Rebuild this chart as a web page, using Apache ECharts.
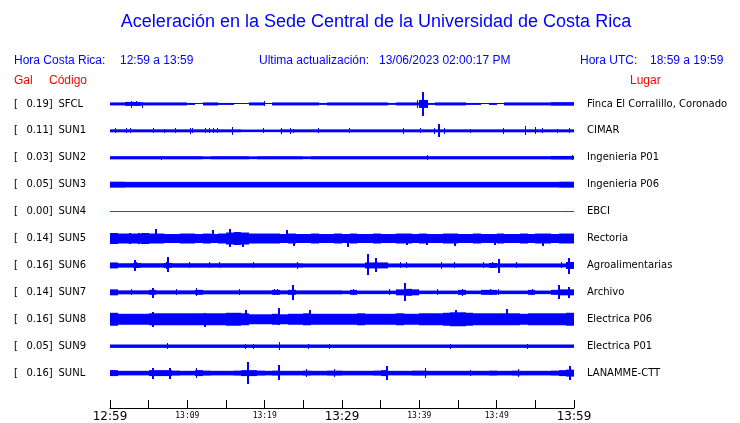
<!DOCTYPE html>
<html><head><meta charset="utf-8">
<script src="https://cdn.jsdelivr.net/npm/echarts@6/dist/echarts.min.js"></script>
<style>html,body{margin:0;padding:0;background:#fff}#c{width:740px;height:423px}</style>
</head><body><div id="c"></div>
<script>
// ---- data ----
const codes = ['SFCL','SUN1','SUN2','SUN3','SUN4','SUN5','SUN6','SUN7','SUN8','SUN9','SUNL'];
const gal = ['0.19','0.11','0.03','0.05','0.00','0.14','0.16','0.14','0.16','0.05','0.16'];
const places = ['Finca El Corralillo, Coronado','CIMAR','Ingenieria P01','Ingenieria P06','EBCI','Rectoria','Agroalimentarias','Archivo','Electrica P06','Electrica P01','LANAMME-CTT'];
const tickMinutes = [0,10,20,30,40,50,60];
const tickLabels = ['12:59','13:09','13:19','13:29','13:39','13:49','13:59'];
const tickMajor = [true,false,false,true,false,false,true];

// envelope half-height per minute (amplitude units, 27 units per trace slot)
const envSFCL = [1.5,1.5,2,2,1.5,1.5,1.5,1.5,1.5,1.5, 1,0.5,1.5,1.5,1,1,0.5,0.5,1.5,1.5, 0.5,1.5,1.5,1.5,1.5,1.5,1.5,1,1.5,1.5, 1.5,1.5,1.5,1.5,1.5,1.5,1,1.5,1.5,1.5, 4,1,1.5,1.5,1.5,1.5,1,1,0.5,1, 0.5,1.5,1.5,1.5,1.5,1.5,1.5,1.8,1.8,1.8];
const envSUN1 = [1.5,1.5,1.5,1.5,1.5,1.5,1.5,1.5,1.5,1.5, 1.5,1.5,1.5,1.5,1.5,1.5,1.5,1.3,1.3,1.3, 1.3,1.3,1.5,1.5,1.5,1.5,1.5,1.5,1.5,1.5, 1.5,1.5,1.5,1.5,1.5,1.5,1.5,1.5,1.5,1.5, 1.5,1.5,1.5,1.5,1.5,1.5,1.5,1.5,1.5,1.5, 1.5,1.5,1.5,1.5,1.5,1.5,1.5,1.5,1.5,1.5];
const envSUN2 = [1.6,1.6,1.6,1.6,1.6,1.6,1.6,1.6,1.6,1.6, 1.6,1.6,1.4,1.6,1.6,1.6,1.6,1.6,1.4,1.6, 1.6,1.6,1.6,1.6,1.6,1.4,1.6,1.6,1.6,1.6, 1.6,1.6,1.6,1.6,1.6,1.6,1.6,1.6,1.6,1.6, 1.6,1.6,1.6,1.6,1.6,1.6,1.6,1.6,1.6,1.6, 1.6,1.6,1.6,1.6,1.6,1.6,1.6,1.8,1.8,1.8];
const envSUN3 = [3,3,2.8,2.8,2.8,2.8,2.8,2.8,2.8,2.8, 2.8,2.8,2.8,2.8,2.8,2.8,2.8,2.8,2.8,2.8, 2.8,2.8,2.8,2.8,2.8,2.8,2.8,2.8,2.8,2.8, 2.8,2.8,2.8,2.8,2.8,2.8,2.8,2.8,2.8,2.8, 2.8,2.8,2.8,2.8,2.8,2.8,2.8,2.8,2.8,2.8, 2.8,2.8,2.8,2.8,2.8,2.8,2.8,2.8,3,3];
const envSUN4 = [0,0,0,0,0,0,0,0,0,0, 0,0,0,0,0,0,0,0,0,0, 0,0,0,0,0,0,0,0,0,0, 0,0,0,0,0,0,0,0,0,0, 0,0,0,0,0,0,0,0,0,0, 0,0,0,0,0,0,0,0,0,0];
const envSUN5 = [5.5,5,5,5,5.5,5,5,4.5,4.5,5, 5,4.5,5,4.5,5,6,6.5,6,5,5, 5,5,4.5,5,4.5,4.5,5,4.5,4.5,5, 4.5,5,4.5,4.5,5,4.5,4.5,5,5,4.5, 5,4.5,4.5,5,5,4.5,4.5,5,4.5,4.5, 5,4.5,4.5,5,4.5,5,5,4.5,5,5];
const envSUN6 = [3,2.2,2.2,2.5,2.2,2.2,2.2,2.5,2.2,2.2, 2.2,2.2,2.2,2.2,2.2,2.2,2.2,2.2,2.2,2.2, 2.2,2.2,2.2,2.2,2.2,2,2,2,2,2, 2,2,2,3,3,3,2,2,2,2, 2,2,2,2,2,2,2,2,2,2.5, 2,2,2,2,2,2,2,2,2,3.5];
const envSUN7 = [3,2,2,2,2,2.5,2,2,2,2, 2,2.5,2,2,2,2,2,2,2,2, 2,2.5,2,2.5,2,2,2,2,2,2, 1.8,2.5,1.8,1.8,1.8,1.8,1.8,3,3.5,3, 1.8,1.8,1.8,1.8,1.8,2.5,1.8,1.8,2.5,2.5, 1.8,1.8,1.8,1.8,2.5,1.8,1.8,2.5,3,3];
const envSUN8 = [6.5,5.5,5.5,5.5,5.5,6,6,6,6,6, 6,6,6,6,6,6.5,6.5,6,5,5, 5,5.5,5,5.5,5.5,6,5.5,5.5,5.5,5.5, 5.5,5.5,6,5.5,5.5,5.5,5.5,6,5.5,5.5, 6,6,6,6.5,7,7,6.5,6,6,6, 6,6,6,5.5,6,6,6,6,6,6.5];
const envSUN9 = [1.7,1.7,1.7,1.7,1.7,1.7,1.7,1.7,1.7,1.7, 1.7,1.7,1.7,1.7,1.7,1.7,1.7,1.7,1.7,1.7, 1.7,1.7,1.7,1.7,1.7,1.7,1.7,1.7,1.7,1.7, 1.7,1.7,1.7,1.7,1.7,1.7,1.7,1.7,1.7,1.7, 1.7,1.7,1.7,1.7,1.7,1.7,1.7,1.7,1.7,1.7, 1.7,1.7,1.7,1.7,1.7,1.7,1.7,1.7,1.7,1.7];
const envSUNL = [3,2.3,2.3,2.3,2.3,3,3,3,2.5,2.3, 2.3,3,2.5,2.3,2.3,2.3,2.5,3,3,2.5, 2.3,2.5,2.3,2.3,2.3,2.5,2.3,2.3,2.5,2.5, 2.3,2.3,2.3,2.3,2.5,3,2.3,2.3,2.3,2.5, 2.5,2.3,2.3,2.3,2.3,2.3,2.3,2.3,2.3,2.5, 2.3,2.3,2.5,2.3,2.3,2.3,2.3,2.5,3,3.5];

// spikes: [minute, up, down]
const spkSFCL = [[2.8,3,3.7],[3.4,3,2],[4.2,1.5,4],[20,2.5,2.5],[39.8,4,4],[40.5,11.7,11.7],[41,4,4]];
const spkSUN1 = [[0.65,2.5,2.5],[2.07,2.7,2.3],[2.6,2.5,2.5],[5.6,2.5,2.5],[7.1,2,2],[8.5,2.5,2.5],[10.4,3,3],[10.7,2.5,2.5],[12.3,2.5,2.5],[12.9,2.5,2.5],[13.4,2.5,2.5],[13.9,2.5,2.5],[15.8,3.7,3.7],[19.8,2.5,2.5],[22.2,3,3],[23.3,3,3],[23.7,2,2],[27,2.5,2.5],[31,2.5,2.5],[38,3,3],[40.1,2.5,2.5],[41.9,3,3],[42.6,7.3,6.3],[43.3,3,3],[46.6,2,2],[50.9,3,3],[53.7,5,4],[55,3.5,3.5],[55.9,2.5,2.5],[57.9,2,2],[59.4,2.5,2.5]];
const spkSUN2 = [[6.7,1.5,2.5],[41.1,2.5,2.5],[59.8,2.5,2.5]];
const spkSUN3 = [];
const spkSUN4 = [];
const spkSUN5 = [[2.6,6,6],[3.8,6,6],[5.9,9.3,5],[13.3,8.3,5],[15.5,9.7,8.7],[17.2,6,8.7],[22.9,9,5],[23.8,5,8],[30.8,5,8.7],[38.4,5,7],[41,5,7],[44.6,5,8],[49.8,5,7],[56,5,7.5]];
const spkSUN6 = [[3.2,5,5.7],[3.4,3,3],[7.3,3.5,3.5],[7.5,8.3,6.7],[10.3,3,3],[12.9,3,3],[14.2,3,3],[18.5,3,3],[24.3,3.5,3.5],[33.3,11,10],[34.4,7,7],[37.6,3,3],[38.4,3,3],[42.9,3.5,3.5],[44.6,3,3],[48.3,3,3],[49.4,3,3],[50.3,6.7,7.7],[52.5,3,3],[58.4,3,3],[59.4,7.3,9]];
const spkSUN7 = [[2.8,3,3],[5.6,4.7,5.7],[8.6,3,3],[11.2,4,4],[16.8,3,3],[21.3,3,3],[21.7,3,3],[23.6,7,7.3],[31.5,3,3],[36.1,3,3],[38.1,9.3,9],[42.4,3,3],[45.6,3.5,3.5],[49.2,3,3],[50.2,3,3],[54.6,3,3],[58.1,7,6.3],[59.3,5.5,5.5]];
const spkSUN8 = [[5.6,7.5,7.5],[12.3,6,8],[17.6,9,6],[21.9,11.7,6],[25.8,9,6],[44.7,9,6],[51.3,10,6]];
const spkSUN9 = [[7.4,3,3],[17.5,2.5,2.5],[18.6,1.7,3],[21.9,3.7,3.7],[25.7,2.5,2.5],[28.4,2.5,2.5],[44,2.5,2.5],[54,2.5,2.5]];
const spkSUNL = [[0.3,3,3],[5.6,5.5,5.5],[7.8,5.5,5.5],[11.2,5,5],[17.9,10.7,10.7],[21.9,8.3,7.3],[25.4,4,4],[29,4,4],[35.8,7,7],[40.8,5,5],[46.6,3,3],[52.8,4,4],[59.5,7,7]];

const envs = [envSFCL,envSUN1,envSUN2,envSUN3,envSUN4,envSUN5,envSUN6,envSUN7,envSUN8,envSUN9,envSUNL];
const spikes = [spkSFCL,spkSUN1,spkSUN2,spkSUN3,spkSUN4,spkSUN5,spkSUN6,spkSUN7,spkSUN8,spkSUN9,spkSUNL];
const traceColors = ['#0000ff','#0000ff','#0000ff','#0000ff','#ff0000','#0000ff','#0000ff','#0000ff','#0000ff','#0000ff','#0000ff'];

// ---- chart ----
const UNITS = 27; // amplitude units per trace slot (slot = 27 px)
const n = codes.length;
const baseOf = i => (n - i); // slot value of trace i (top trace highest)

const envData = [];
envs.forEach((arr, i) => arr.forEach((a, m) => envData.push([m, i, a])));
const spkData = [];
spikes.forEach((arr, i) => arr.forEach(s => spkData.push([s[0], i, s[1], s[2]])));

const chart = echarts.init(document.getElementById('c'), null, {renderer: 'canvas'});

const H = 423, gridTop = 77, gridBottom = 14;
const yMin = (n + 1) - (H - gridTop - gridBottom) / 27;
const graphics = [];
const blue = '#0000ff', red = '#ff0000';
function txt(x, y, s, opt) {
  graphics.push({type: 'text', x: x, y: y, silent: true,
    style: Object.assign({text: s, fill: blue, font: '12px "Liberation Sans", Arial, sans-serif', verticalAlign: 'middle'}, opt || {})});
}
txt(376, 22, 'Aceleración en la Sede Central de la Universidad de Costa Rica', {font: '18px "Liberation Sans", Arial, sans-serif', align: 'center'});
txt(14, 61, 'Hora Costa Rica:');
txt(120, 61, '12:59 a 13:59');
txt(259, 61, 'Ultima actualización:');
txt(379, 61, '13/06/2023 02:00:17 PM');
txt(580, 61, 'Hora UTC:');
txt(650, 61, '18:59 a 19:59');
txt(14, 81, 'Gal', {fill: red});
txt(49, 81, 'Código', {fill: red});
txt(630, 81, 'Lugar', {fill: red});

// envelope block: crisp in x, fractional in y (soft edges), at least 1 px
function envBlock(x0, x1, yTop, yBot, color) {
  let t = yTop, h = yBot - yTop;
  if (h < 1) { t = Math.floor((yTop + yBot) / 2); h = 1; }
  const l = Math.round(x0), r = Math.max(Math.round(x1), l + 1);
  return {type: 'rect', shape: {x: l, y: t, width: r - l, height: h}, style: {fill: color}};
}
// spike: crisp rect
function spikeBar(x0, x1, yTop, yBot, color) {
  const t = Math.round(yTop), b = Math.max(Math.round(yBot), t + 1);
  const l = Math.round(x0), r = Math.max(Math.round(x1), l + 1);
  return {type: 'rect', shape: {x: l, y: t, width: r - l, height: b - t}, style: {fill: color}};
}

const option = {
  animation: false,
  grid: {left: 110, right: 166, top: gridTop, bottom: gridBottom},
  xAxis: {
    type: 'value', min: 0, max: 60, interval: 5,
    axisLine: {show: true, onZero: false, lineStyle: {color: '#000', width: 1}},
    axisTick: {show: true, inside: true, length: 8, lineStyle: {color: '#000', width: 1}},
    splitLine: {show: false},
    axisLabel: {
      show: true, margin: 3, showMinLabel: true, showMaxLabel: true,
      verticalAlign: 'top',
      formatter: function (v) {
        const k = tickMinutes.indexOf(Math.round(v));
        if (k < 0) return '';
        return tickMajor[k] ? '{big|' + tickLabels[k] + '}' : '{small|' + tickLabels[k] + '}';
      },
      rich: {
        big: {fontSize: 12, fontFamily: 'DejaVu Sans', color: '#000', verticalAlign: 'top'},
        small: {fontSize: 8, fontFamily: 'DejaVu Sans Mono', color: '#000', verticalAlign: 'top', padding: [1,0,0,0]}
      }
    }
  },
  yAxis: {type: 'value', min: yMin, max: n + 1, show: false},
  graphic: graphics,
  series: [
    {
      type: 'custom', clip: false, data: envData,
      renderItem: function (params, api) {
        const m = api.value(0), i = api.value(1), a = api.value(2);
        const b = baseOf(i);
        const p0 = api.coord([m, b + a / UNITS]);
        const p1 = api.coord([m + 1, b - a / UNITS]);
        return envBlock(p0[0], p1[0], p0[1], p1[1], traceColors[i]);
      }
    },
    {
      type: 'custom', clip: false, data: spkData,
      renderItem: function (params, api) {
        const m = api.value(0), i = api.value(1), up = api.value(2), dn = api.value(3);
        const b = baseOf(i);
        const p0 = api.coord([m, b + up / UNITS]);
        const p1 = api.coord([m, b - dn / UNITS]);
        const w = Math.max(up, dn) > 5 ? 2 : 1;
        return spikeBar(p0[0] - w / 2, p0[0] + w / 2, p0[1], p1[1], traceColors[i]);
      }
    },
    {
      type: 'custom', clip: false, data: codes.map((c, i) => [0, i]),
      renderItem: function (params, api) {
        const i = api.value(1);
        const b = baseOf(i);
        const pL = api.coord([0, b]);
        const pR = api.coord([60, b]);
        const font = '10px "DejaVu Sans", sans-serif';
        return {type: 'group', children: [
          {type: 'text', x: 14, y: pL[1], style: {text: '[', font: font, fill: '#000', verticalAlign: 'middle'}},
          {type: 'text', x: 26.5, y: pL[1], style: {text: gal[i] + ']', font: font, fill: '#000', verticalAlign: 'middle'}},
          {type: 'text', x: 58.5, y: pL[1], style: {text: codes[i], font: font, fill: '#000', verticalAlign: 'middle'}},
          {type: 'text', x: pR[0] + 13, y: pR[1], style: {text: places[i], font: font, fill: '#000', verticalAlign: 'middle'}}
        ]};
      }
    }
  ]
};
chart.setOption(option);
</script>
</body></html>
